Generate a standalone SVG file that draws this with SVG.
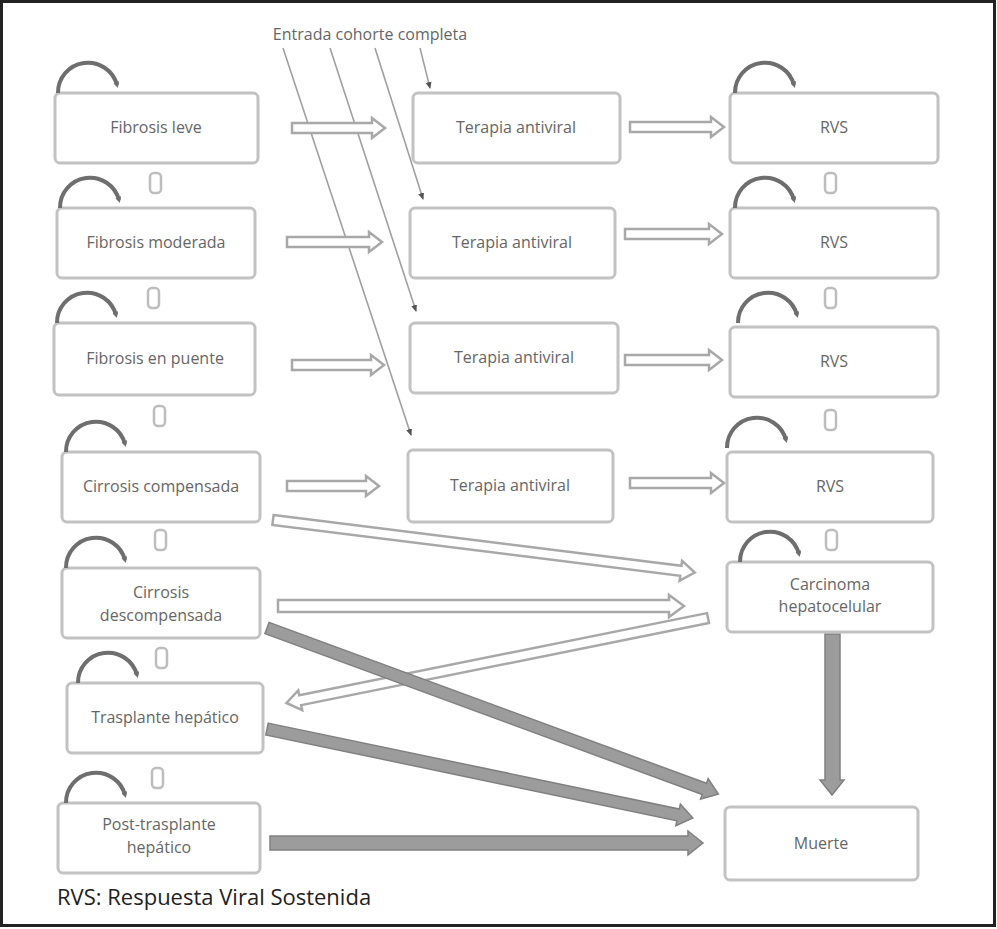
<svg xmlns="http://www.w3.org/2000/svg" width="997" height="929" viewBox="0 0 997 929">
<defs>
<style>
.box{fill:#fff;stroke:#c2c2c2;stroke-width:3}
.lbl{font-family:"Open Sans","Noto Sans",sans-serif;font-size:16px;fill:#666;text-anchor:middle}
.loop{fill:none;stroke:#6e6e6e;stroke-width:4}
.tun{fill:none;stroke:#bdbdbd;stroke-width:2.5}
.hol{fill:#fff;stroke:#a8a8a8;stroke-width:2.5;stroke-linejoin:miter}
.drk{fill:#9c9c9c;stroke:#808080;stroke-width:1.5}
.thin{fill:none;stroke:#a0a0a0;stroke-width:1.6}
</style>
<marker id="lh" markerWidth="6" markerHeight="6" refX="3" refY="3" orient="auto" markerUnits="userSpaceOnUse">
<path d="M0,0 L6,3 L0,6 z" fill="#6e6e6e"/>
</marker>
<marker id="dot" markerWidth="8" markerHeight="8" refX="6" refY="4" orient="auto" markerUnits="userSpaceOnUse">
<path d="M0,1 L7,4 L0,7 z" fill="#555"/>
</marker>
</defs>
<rect x="0" y="0" width="997" height="929" fill="#fff"/>
<rect x="1.5" y="1.5" width="993" height="924" fill="none" stroke="#222" stroke-width="3"/>

<g id="connectors">
<text x="370" y="40" class="lbl">Entrada cohorte completa</text>
<path class="thin" d="M420,48 L430,88" marker-end="url(#dot)"/>
<path class="thin" d="M375,48 L423,199" marker-end="url(#dot)"/>
<path class="thin" d="M330,48 L416,311" marker-end="url(#dot)"/>
<path class="thin" d="M283,48 L411,435" marker-end="url(#dot)"/>

<path class="hol" d="M292,123 H372 V118 L385,128 L372,138 V133 H292 Z"/>
<path class="hol" d="M287,237 H369 V232 L382,242 L369,252 V247 H287 Z"/>
<path class="hol" d="M292,360 H371 V355 L384,365 L371,375 V370 H292 Z"/>
<path class="hol" d="M287,481 H366 V476 L379,486 L366,496 V491 H287 Z"/>

<path class="hol" d="M630,122 H711 V117 L724,127 L711,137 V132 H630 Z"/>
<path class="hol" d="M625,229 H709 V224 L722,234 L709,244 V239 H625 Z"/>
<path class="hol" d="M625,355 H709 V350 L722,360 L709,370 V365 H625 Z"/>
<path class="hol" d="M630,478 H711 V473 L724,483 L711,493 V488 H630 Z"/>

<path class="hol" transform="translate(273,520) rotate(7.1)" d="M0,-5 H411 V-10 L425,0 L411,10 V5 H0 Z"/>
<path class="hol" d="M278,600 H669 V595 L684,606 L669,617 V612 H278 Z"/>
<path class="hol" transform="translate(708,618) rotate(168.6)" d="M0,-5 H416 V-10 L430,0 L416,10 V5 H0 Z"/>

<path class="drk" transform="translate(267,628) rotate(20.2)" d="M0,-6 H466 V-11 L481,0 L466,11 V6 H0 Z"/>
<path class="drk" transform="translate(267,729) rotate(11.8)" d="M0,-6 H420 V-11 L435,0 L420,11 V6 H0 Z"/>
<path class="drk" d="M270,836 H688 V831 L703,843 L688,855 V850 H270 Z"/>
<path class="drk" d="M825,634 H840 V780 H844 L832,795 L820,780 H825 Z"/>
</g>

<g id="n1">
<rect class="box" x="55" y="93" width="203" height="70" rx="5"/>
<path class="loop" d="M58,93 A30,30 0 0 1 117,85" marker-end="url(#lh)"/>
<text class="lbl" x="156" y="133">Fibrosis leve</text>
</g>
<g id="n2">
<rect class="box" x="57" y="208" width="198" height="70" rx="5"/>
<path class="loop" d="M60,208 A30,30 0 0 1 119,200" marker-end="url(#lh)"/>
<rect class="tun" x="150" y="173" width="11" height="20" rx="4"/>
<text class="lbl" x="156" y="248">Fibrosis moderada</text>
</g>
<g id="n3">
<rect class="box" x="54" y="323" width="201" height="72" rx="5"/>
<path class="loop" d="M57,323 A30,30 0 0 1 116,315" marker-end="url(#lh)"/>
<rect class="tun" x="148" y="288" width="11" height="20" rx="4"/>
<text class="lbl" x="155" y="364">Fibrosis en puente</text>
</g>
<g id="n4">
<rect class="box" x="62" y="452" width="198" height="70" rx="5"/>
<path class="loop" d="M66,452 A30,30 0 0 1 125,444" marker-end="url(#lh)"/>
<rect class="tun" x="154" y="406" width="11" height="20" rx="4"/>
<text class="lbl" x="161" y="492">Cirrosis compensada</text>
</g>
<g id="n5">
<rect class="box" x="62" y="568" width="198" height="70" rx="5"/>
<path class="loop" d="M66,568 A30,30 0 0 1 125,560" marker-end="url(#lh)"/>
<rect class="tun" x="155" y="530" width="11" height="20" rx="4"/>
<text class="lbl" x="161" y="598">Cirrosis</text>
<text class="lbl" x="161" y="621">descompensada</text>
</g>
<g id="n6">
<rect class="box" x="67" y="683" width="196" height="70" rx="5"/>
<path class="loop" d="M78,683 A30,30 0 0 1 137,675" marker-end="url(#lh)"/>
<rect class="tun" x="156" y="648" width="11" height="20" rx="4"/>
<text class="lbl" x="165" y="723">Trasplante hepático</text>
</g>
<g id="n7">
<rect class="box" x="58" y="803" width="202" height="70" rx="5"/>
<path class="loop" d="M66,803 A30,30 0 0 1 125,795" marker-end="url(#lh)"/>
<rect class="tun" x="152" y="768" width="11" height="20" rx="4"/>
<text class="lbl" x="159" y="830">Post-trasplante</text>
<text class="lbl" x="159" y="853">hepático</text>
</g>

<g id="t1">
<rect class="box" x="413" y="93" width="207" height="70" rx="5"/>
<text class="lbl" x="516" y="133">Terapia antiviral</text>
</g>
<g id="t2">
<rect class="box" x="410" y="208" width="205" height="70" rx="5"/>
<text class="lbl" x="512" y="248">Terapia antiviral</text>
</g>
<g id="t3">
<rect class="box" x="410" y="323" width="208" height="70" rx="5"/>
<text class="lbl" x="514" y="363">Terapia antiviral</text>
</g>
<g id="t4">
<rect class="box" x="408" y="450" width="205" height="72" rx="5"/>
<text class="lbl" x="510" y="491">Terapia antiviral</text>
</g>

<g id="r1">
<rect class="box" x="730" y="93" width="208" height="70" rx="5"/>
<path class="loop" d="M735,93 A30,30 0 0 1 794,85" marker-end="url(#lh)"/>
<text class="lbl" x="834" y="133">RVS</text>
</g>
<g id="r2">
<rect class="box" x="730" y="208" width="208" height="70" rx="5"/>
<path class="loop" d="M735,208 A30,30 0 0 1 794,200" marker-end="url(#lh)"/>
<rect class="tun" x="825" y="173" width="11" height="20" rx="4"/>
<text class="lbl" x="834" y="248">RVS</text>
</g>
<g id="r3">
<rect class="box" x="730" y="327" width="208" height="70" rx="5"/>
<path class="loop" d="M738,323 A30,30 0 0 1 797,315" marker-end="url(#lh)"/>
<rect class="tun" x="825" y="288" width="11" height="20" rx="4"/>
<text class="lbl" x="834" y="367">RVS</text>
</g>
<g id="r4">
<rect class="box" x="727" y="452" width="206" height="70" rx="5"/>
<path class="loop" d="M727,448 A30,30 0 0 1 786,440" marker-end="url(#lh)"/>
<rect class="tun" x="825" y="410" width="11" height="20" rx="4"/>
<text class="lbl" x="830" y="492">RVS</text>
</g>
<g id="c">
<rect class="box" x="727" y="562" width="206" height="70" rx="5"/>
<path class="loop" d="M740,562 A30,30 0 0 1 799,554" marker-end="url(#lh)"/>
<rect class="tun" x="826" y="530" width="11" height="20" rx="4"/>
<text class="lbl" x="830" y="590">Carcinoma</text>
<text class="lbl" x="830" y="612">hepatocelular</text>
</g>
<g id="m">
<rect class="box" x="725" y="807" width="193" height="73" rx="5"/>
<text class="lbl" x="821" y="849">Muerte</text>
</g>

<text x="57" y="905" font-family="'Open Sans','Noto Sans',sans-serif" font-size="22" fill="#222">RVS: Respuesta Viral Sostenida</text>
</svg>
